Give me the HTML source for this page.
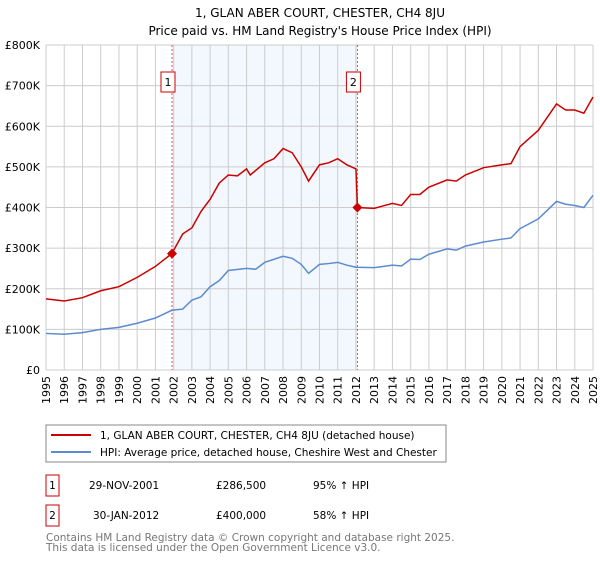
<!DOCTYPE html>
<html><head><meta charset="utf-8"><style>
body{margin:0;background:#fff;font-family:"DejaVu Sans","Liberation Sans",sans-serif;}
svg text{font-family:"DejaVu Sans","Liberation Sans",sans-serif;}
</style></head><body>
<svg id="c" width="600" height="560" xmlns="http://www.w3.org/2000/svg">
<text x="320" y="17" text-anchor="middle" font-size="12" fill="#000">1, GLAN ABER COURT, CHESTER, CH4 8JU</text>
<text x="320" y="35" text-anchor="middle" font-size="12" fill="#000">Price paid vs. HM Land Registry's House Price Index (HPI)</text>
<g id="plot"></g>
<g>
<rect x="46" y="425" width="400" height="37" fill="#fff" stroke="#888"/>
<line x1="51" y1="435" x2="91" y2="435" stroke="#cc0000" stroke-width="2"/>
<text x="100" y="439" font-size="10.5">1, GLAN ABER COURT, CHESTER, CH4 8JU (detached house)</text>
<line x1="51" y1="452" x2="91" y2="452" stroke="#5b8bd0" stroke-width="2"/>
<text x="100" y="456" font-size="10.5">HPI: Average price, detached house, Cheshire West and Chester</text>
</g>
<g>
<rect x="46" y="475" width="13" height="21" fill="#fff" stroke="#cc0000"/>
<text x="52.5" y="489" font-size="10.5" text-anchor="middle">1</text>
<text x="89" y="489" font-size="10.5">29-NOV-2001</text>
<text x="216" y="489" font-size="10.5">£286,500</text>
<text x="313" y="489" font-size="10.5">95% ↑ HPI</text>
<rect x="46" y="505" width="13" height="21" fill="#fff" stroke="#cc0000"/>
<text x="52.5" y="519" font-size="10.5" text-anchor="middle">2</text>
<text x="93" y="519" font-size="10.5">30-JAN-2012</text>
<text x="216" y="519" font-size="10.5">£400,000</text>
<text x="313" y="519" font-size="10.5">58% ↑ HPI</text>
</g>
<text x="46" y="541" font-size="10.5" fill="#777">Contains HM Land Registry data © Crown copyright and database right 2025.</text>
<text x="46" y="551" font-size="10.5" fill="#777">This data is licensed under the Open Government Licence v3.0.</text>
</svg>
<script>
const yTicks=[0,100,200,300,400,500,600,700,800];
const yTickLabels=["£0","£100K","£200K","£300K","£400K","£500K","£600K","£700K","£800K"];
const xYears=[1995,1996,1997,1998,1999,2000,2001,2002,2003,2004,2005,2006,2007,2008,2009,2010,2011,2012,2013,2014,2015,2016,2017,2018,2019,2020,2021,2022,2023,2024,2025];
const hpiT=[1995,1996,1997,1998,1999,2000,2001,2001.9,2002.5,2003,2003.5,2004,2004.5,2005,2006,2006.5,2007,2008,2008.5,2009,2009.4,2010,2010.5,2011,2011.5,2012,2013,2014,2014.5,2015,2015.5,2016,2017,2017.5,2018,2019,2020,2020.5,2021,2022,2023,2023.5,2024,2024.5,2025];
const hpiV=[90,88,92,100,105,115,128,147,150,172,180,205,220,245,250,248,265,280,275,260,238,260,262,265,258,253,252,258,256,273,272,285,298,295,305,315,322,325,348,372,415,408,405,400,430];
const redT=[1995,1996,1997,1998,1999,2000,2001,2001.9,2002.5,2003,2003.5,2004,2004.5,2005,2005.5,2006,2006.2,2007,2007.5,2008,2008.5,2009,2009.4,2010,2010.5,2011,2011.5,2012,2012.08,2013,2014,2014.5,2015,2015.5,2016,2017,2017.5,2018,2019,2020,2020.5,2021,2022,2023,2023.5,2024,2024.5,2025];
const redV=[175,170,178,195,205,228,255,286.5,335,350,390,420,460,480,478,495,480,510,520,545,535,500,465,505,510,520,505,495,400,398,410,405,432,432,450,468,465,480,498,505,508,550,590,655,640,640,632,672];
const saleT=[2001.91,2012.08];
const saleV=[286.5,400];
const saleLabels=["1","2"];
const X0=46,X1=593,Y0=370,Y1=45;
const xs=t=>X0+(t-1995)/30*(X1-X0);
const ys=v=>Y0-v/800*(Y0-Y1);
const NS="http://www.w3.org/2000/svg";
const g=document.getElementById('plot');
function mk(tag,attrs){const e=document.createElementNS(NS,tag);for(const k in attrs)e.setAttribute(k,attrs[k]);g.appendChild(e);return e;}
let e=mk('rect',{x:xs(saleT[0]),y:Y1,width:xs(saleT[1])-xs(saleT[0]),height:Y0-Y1,fill:'#f3f7fe'});


xYears.forEach(yr=>{
  const l=mk('line',{x1:xs(yr),x2:xs(yr),y1:Y1,y2:Y0,stroke:'#ccc','stroke-width':1});
  
  
  const t=mk('text',{transform:`translate(${xs(yr)+4},${Y0+6}) rotate(-90)`,'text-anchor':'end','font-size':11});
  t.textContent=yr;
  
  
});
yTicks.forEach((v,i)=>{
  const l=mk('line',{x1:X0,x2:X1,y1:ys(v),y2:ys(v),stroke:'#ccc','stroke-width':1});
  
  
  const t=mk('text',{x:X0-6,y:ys(v)+4,'text-anchor':'end','font-size':11});
  t.textContent=yTickLabels[i];
  
  
});
saleT.forEach((t,i)=>{
  const l=mk('line',{x1:xs(t),x2:xs(t),y1:Y1,y2:Y0,stroke:'#e05050','stroke-width':1,'stroke-dasharray':'2,2'});
  
  
  const r=mk('rect',{x:xs(t)-11,y:72,width:14,height:20,fill:'#fff',stroke:'#cc0000'});
  
  
  const tx=mk('text',{x:xs(t)-4,y:86,'text-anchor':'middle','font-size':11});
  tx.textContent=saleLabels[i];
  
  
});
const hp=mk('polyline',{points:hpiT.map((t,i)=>xs(t)+','+ys(hpiV[i])).join(' '),fill:'none',stroke:'#5b8bd0','stroke-width':1.5});


const rp=mk('polyline',{points:redT.map((t,i)=>xs(t)+','+ys(redV[i])).join(' '),fill:'none',stroke:'#cc0000','stroke-width':1.5});


saleT.forEach((t,i)=>{
  const cx=xs(t),cy=ys(saleV[i]);
  const p=mk('polygon',{points:`${cx},${cy-5} ${cx+5},${cy} ${cx},${cy+5} ${cx-5},${cy}`,fill:'#cc0000'});
  
  
});
</script>
</body></html>
